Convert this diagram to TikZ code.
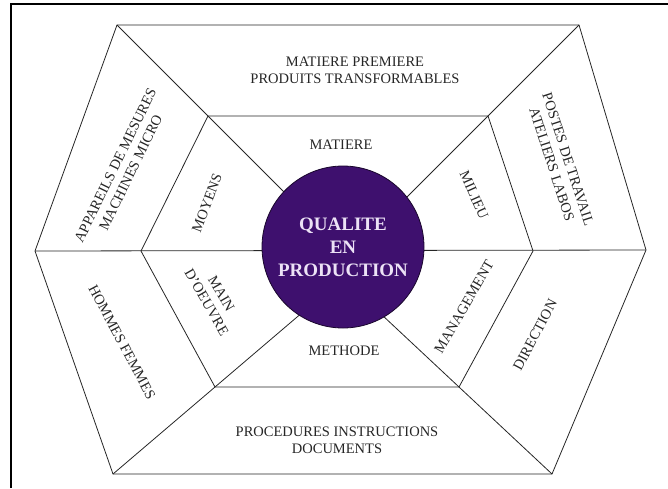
\documentclass[tikz,border=0pt]{standalone}
\usepackage{fontspec}
\setmainfont{Liberation Serif}
\usetikzlibrary{calc}

\definecolor{qualpurple}{RGB}{62,16,110}
\definecolor{qualtext}{RGB}{236,226,246}
\tikzset{
  seclabel/.style={font=\fontsize{14.5}{17}\selectfont, align=center, inner sep=0pt, text=black!85},
  hexedge/.style={line width=0.8pt, black!85}
}

\begin{document}
\begin{tikzpicture}[x=1pt,y=-1pt]
  \useasboundingbox (0,0) rectangle (668,488);
  % frame
  \draw[line width=1.1pt] (11,488) -- (11,4) -- (668,4);
  % outer and inner hexagons
  \coordinate (o1) at (117,25);  \coordinate (o2) at (579,25);
  \coordinate (o3) at (646,250); \coordinate (o4) at (552,474);
  \coordinate (o5) at (113,474); \coordinate (o6) at (35,251);
  \coordinate (i1) at (208,116); \coordinate (i2) at (488,116);
  \coordinate (i3) at (533,251); \coordinate (i4) at (459,387);
  \coordinate (i5) at (215,387); \coordinate (i6) at (141,251);
  \draw[hexedge] (o1) -- (o2) -- (o3) -- (o4) -- (o5) -- (o6) -- cycle;
  \draw[hexedge] (i1) -- (i2) -- (i3) -- (i4) -- (i5) -- (i6) -- cycle;
  % spokes
  \foreach \k in {1,2,4,5}
    \draw[hexedge] (o\k) -- ($(o\k)!2.3!(i\k)$);
  \draw[hexedge] (o6) -- (o3);
  % centre
  \node[circle, draw=black!60!qualpurple, line width=0.8pt, fill=qualpurple,
        minimum size=162pt, inner sep=0pt, align=center, text=qualtext,
        font=\bfseries\fontsize{19}{23}\selectfont] (qual) at (343,247)
        {QUALITE\\EN\\PRODUCTION};
  % outer ring
  \node[seclabel] (matprem) at (355,70) {MATIERE PREMIERE\\PRODUITS TRANSFORMABLES};
  \node[seclabel, rotate=64] (appar) at (123,169) {APPAREILS DE MESURES\\MACHINES MICRO};
  \node[seclabel, rotate=-72] (postes) at (560,162) {POSTES DE TRAVAIL\\ATELIERS LABOS};
  \node[seclabel, rotate=-62] (hommes) at (122,342) {HOMMES FEMMES};
  \node[seclabel, rotate=62] (direc) at (535,335) {DIRECTION};
  \node[seclabel] (proc) at (337,440) {PROCEDURES INSTRUCTIONS\\DOCUMENTS};
  % inner ring
  \node[seclabel] (mat) at (341,145) {MATIERE};
  \node[seclabel, rotate=69] (moyens) at (207,203) {MOYENS};
  \node[seclabel, rotate=-66] (milieu) at (474,195) {MILIEU};
  \node[seclabel, rotate=-60] (main) at (214,298) {MAIN\\D'OEUVRE};
  \node[seclabel, rotate=60] (manag) at (464,307) {MANAGEMENT};
  \node[seclabel] (meth) at (344,351) {METHODE};
\end{tikzpicture}
\end{document}
